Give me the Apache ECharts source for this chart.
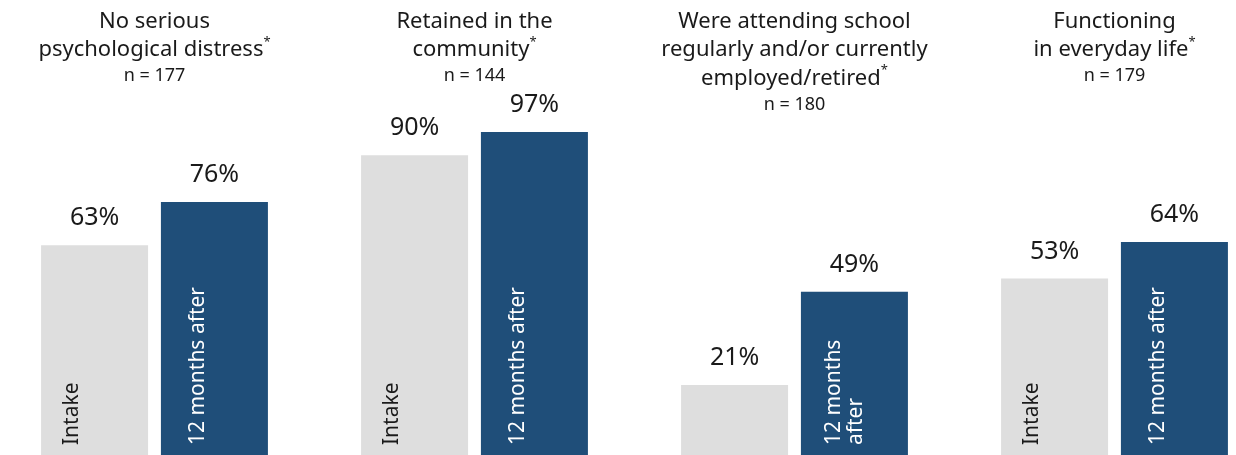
<!DOCTYPE html>
<html>
<head>
<meta charset="utf-8">
<script src="https://cdn.jsdelivr.net/npm/echarts@6/dist/echarts.min.js"></script>
<style>
  html, body { margin: 0; padding: 0; background: #ffffff; }
  #chart { width: 1236px; height: 455px; }
</style>
</head>
<body>
<div id="chart"></div>
<script>
// Outcome groups (title lines), sample sizes and percentages
const categories = ['distress', 'community', 'school', 'functioning'];
const titleLines = [
  ['No serious', 'psychological distress'],
  ['Retained in the', 'community'],
  ['Were attending school', 'regularly and/or currently', 'employed/retired'],
  ['Functioning', 'in everyday life']
];
const sampleSizes = [177, 144, 180, 179];
const intakeValues = [63, 90, 21, 53];
const followUpValues = [76, 97, 49, 64];
const intakeBarText = ['Intake', 'Intake', '', 'Intake'];
const followUpBarText = ['12 months after', '12 months after', '12 months\nafter', '12 months after'];

const GRAY = '#dedede';
const BLUE = '#1f4e79';
const INK = '#1a1a1a';
const FONT = '"Noto Sans", "Open Sans", sans-serif';

const chart = echarts.init(document.getElementById('chart'), null, { renderer: 'canvas' });

const barCommon = { barWidth: 107, barGap: '12%', silent: true };

// Bars carrying the percentage above them
function valueSeries(name, values, color) {
  return Object.assign({
    type: 'bar', name: name, xAxisIndex: 0, yAxisIndex: 0,
    data: values,
    itemStyle: { color: color },
    label: {
      show: true, position: 'top', distance: 12, formatter: '{c}%',
      fontSize: 25, lineHeight: 30, color: INK, fontFamily: FONT
    }
  }, barCommon);
}

// Transparent twin bars on a hidden axis that carry the rotated in-bar caption
function captionSeries(name, values, texts, color, padFor) {
  return Object.assign({
    type: 'bar', name: name + ' caption', xAxisIndex: 1, yAxisIndex: 0,
    itemStyle: { color: 'rgba(0,0,0,0)' },
    data: values.map(function (v, i) {
      return {
        value: v,
        label: { show: texts[i] !== '', formatter: texts[i] || ' ', padding: [padFor(texts[i]), 0, 0, 0] }
      };
    }),
    label: {
      show: true, position: 'insideBottomLeft', distance: 10, rotate: 90,
      align: 'left', verticalAlign: 'top',
      fontSize: 21, lineHeight: 22, color: color, fontFamily: FONT
    }
  }, barCommon);
}

chart.setOption({
  animation: false,
  backgroundColor: '#ffffff',
  grid: { left: -5.5, width: 1280, top: 122, height: 333, outerBoundsMode: 'none', containLabel: false },
  xAxis: [
    { type: 'category', data: categories, show: false },
    { type: 'category', data: categories, show: false }
  ],
  yAxis: { type: 'value', min: 0, max: 100, show: false },
  series: [
    valueSeries('Intake', intakeValues, GRAY),
    valueSeries('12 months after', followUpValues, BLUE),
    captionSeries('Intake', intakeValues, intakeBarText, INK, function () { return 10; }),
    captionSeries('12 months after', followUpValues, followUpBarText, '#ffffff',
      function (t) { return t.indexOf('\n') >= 0 ? 12 : 16; })
  ]
});

// Group headings centred over each pair of bars
const headingRich = {
  t: { fontSize: 22, lineHeight: 28.5, fontFamily: FONT, fill: INK },
  s: { fontSize: 13, lineHeight: 22, fontFamily: FONT, fill: INK, verticalAlign: 'top' },
  n: { fontSize: 18, lineHeight: 24, fontFamily: FONT, fill: INK }
};

const headings = categories.map(function (c, i) {
  const lines = titleLines[i];
  const body = lines.map(function (l, k) {
    return k === lines.length - 1 ? '{t|' + l + '}{s|*}' : '{t|' + l + '}';
  }).join('\n');
  return {
    type: 'text',
    x: chart.convertToPixel({ xAxisIndex: 0 }, i),
    y: 7,
    silent: true,
    style: {
      text: body + '\n{n|n = ' + sampleSizes[i] + '}',
      rich: headingRich,
      align: 'center',
      verticalAlign: 'top',
      fill: INK
    }
  };
});

chart.setOption({ graphic: headings });
</script>
</body>
</html>
